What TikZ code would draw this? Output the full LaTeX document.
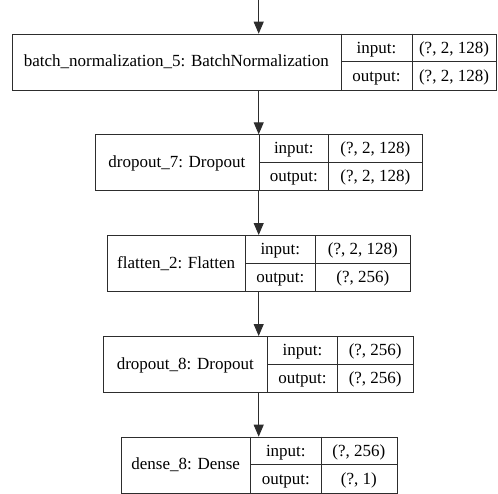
\documentclass[tikz,border=0pt]{standalone}
\usepackage{fontspec}
\setmainfont{Liberation Serif}
\usetikzlibrary{arrows.meta}
\definecolor{edgegray}{RGB}{45,45,45}
\tikzset{
  x=1pt, y=1pt,
  cellbox/.style={draw=edgegray, line width=1pt, inner sep=0pt, anchor=north west},
  divider/.style={draw=edgegray, line width=1pt},
  celltext/.style={inner sep=0pt, anchor=base, text=black, font=\fontsize{17}{20}\selectfont},
  flow/.style={draw=edgegray, line width=1pt, -{Triangle[length=12pt,width=10pt]}}
}
% One layer record: #1 name, #2 left edge, #3 first divider, #4 second divider,
% #5 right edge, #6 top edge, #7 layer title, #8 input shape, #9 output shape
\newcommand\kerasLayer[9]{%
  \node[cellbox, minimum width={(#5-#2)*1pt}, minimum height=56pt] (#1) at (#2,-#6) {};
  \draw[divider] (#3,-#6) -- ++(0,-56);
  \draw[divider] (#4,-#6) -- ++(0,-56);
  \draw[divider] (#3,{-#6-28}) -- (#5,{-#6-28});
  \node[celltext] (#1-title) at ({(#2+#3)/2},{-#6-28-5}) {#7};
  \node[celltext] (#1-inlabel) at ({(#3+#4)/2},{-#6-14-5.5}) {input:};
  \node[celltext] (#1-outlabel) at ({(#3+#4)/2},{-#6-42-5.5}) {output:};
  \node[celltext] (#1-inshape) at ({(#4+#5)/2},{-#6-14-5.5}) {#8};
  \node[celltext] (#1-outshape) at ({(#4+#5)/2},{-#6-42-5.5}) {#9};
}
\begin{document}
\begin{tikzpicture}
  \useasboundingbox (0,0) rectangle (498,-493);
  \kerasLayer{bn5}{11.7}{341}{412}{496}{33.7}{batch\_normalization\_5: BatchNormalization}{(?, 2, 128)}{(?, 2, 128)}
  \kerasLayer{drop7}{94.7}{259}{328.7}{422}{134.3}{dropout\_7: Dropout}{(?, 2, 128)}{(?, 2, 128)}
  \kerasLayer{flat2}{107.3}{245}{315.7}{410}{235}{flatten\_2: Flatten}{(?, 2, 128)}{(?, 256)}
  \kerasLayer{drop8}{103.3}{267.3}{337.7}{412.7}{336}{dropout\_8: Dropout}{(?, 256)}{(?, 256)}
  \kerasLayer{dense8}{120.7}{250.7}{321}{396.7}{436.7}{dense\_8: Dense}{(?, 256)}{(?, 1)}
  % data flow between layers
  \coordinate (src) at (258.7,0);
  \draw[flow] (src) -- (src |- bn5.north);
  \draw[flow] (bn5.south -| src) -- (drop7.north -| src);
  \draw[flow] (drop7.south -| src) -- (flat2.north -| src);
  \draw[flow] (flat2.south -| src) -- (drop8.north -| src);
  \draw[flow] (drop8.south -| src) -- (dense8.north -| src);
\end{tikzpicture}
\end{document}
